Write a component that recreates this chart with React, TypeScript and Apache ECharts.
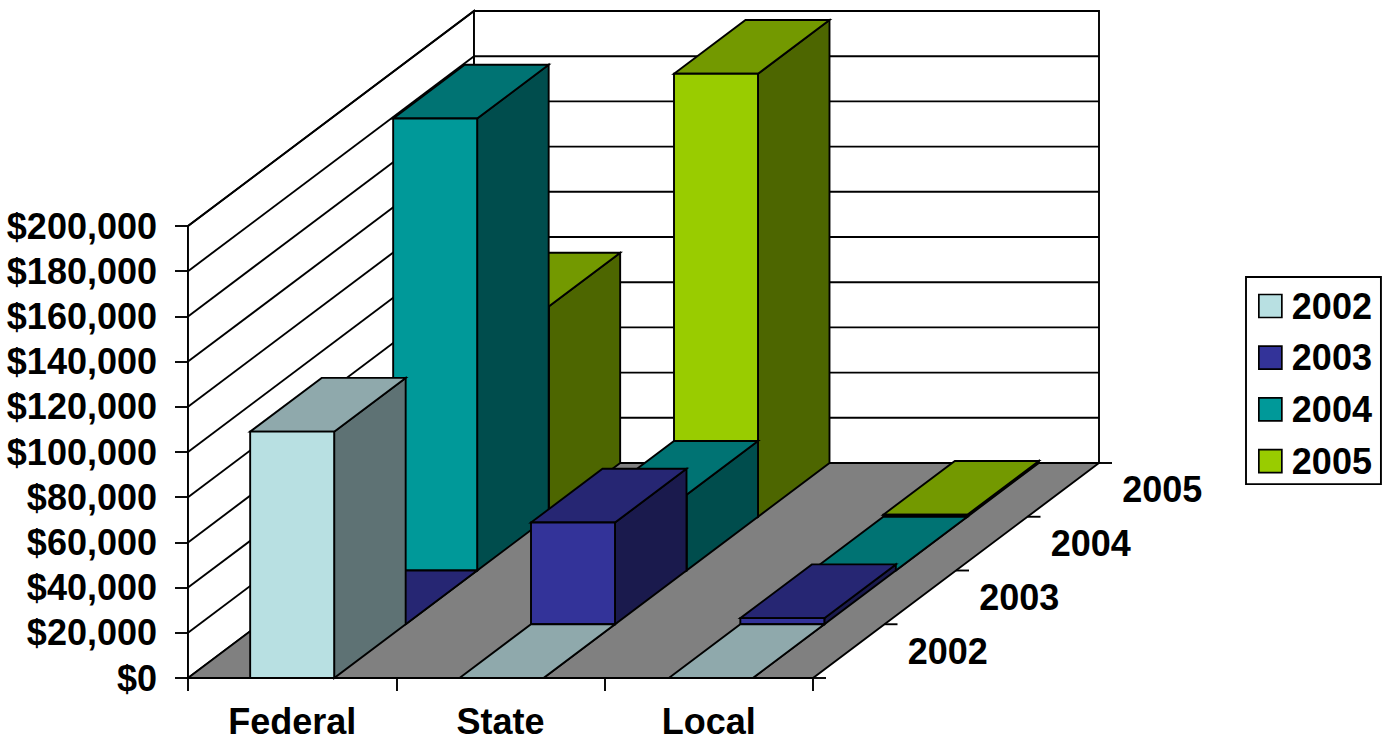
import React, { useEffect, useRef } from "react";
import * as echarts from "echarts";

// Funding by level of government, one row of bars per year.
const levels = ["Federal", "State", "Local"];
const years = ["2002", "2003", "2004", "2005"];
const values2002 = [109000, 0, 0];
const values2003 = [0, 45000, 2700];
const values2004 = [200000, 33500, 0];
const values2005 = [93000, 196000, 900];
const rows = [values2002, values2003, values2004, values2005];
const frontColors = ["#B8E0E2", "#333399", "#009999", "#99CC00"];
const topColors = ["#8FA9AC", "#262673", "#007373", "#739900"];
const sideColors = ["#5E7274", "#1A1A4D", "#004D4D", "#4D6600"];
const valueTicks = [0, 20000, 40000, 60000, 80000, 100000, 120000, 140000, 160000, 180000, 200000];

const FONT_FAMILY = '"Liberation Sans", Arial, sans-serif';
const FONT_SIZE = 36;
const DEPTH_X = 71.5;
const DEPTH_Y = 53.75;
const BAR_WIDTH = 84;
const LEVEL_NUDGE = 1;
const STROKE = "#000";
const LINE = 1.9;

const face = (points: number[][], fill: string) => ({
  type: "polygon",
  shape: { points },
  style: { fill, stroke: STROKE, lineWidth: LINE, lineJoin: "miter" },
});

const edge = (x1: number, y1: number, x2: number, y2: number) => ({
  type: "line",
  shape: { x1, y1, x2, y2 },
  style: { stroke: STROKE, lineWidth: LINE, fill: "none" },
});

// Walls, floor and the receding year axis.
function renderFrame(params: any, api: any) {
  const sys = params.coordSys;
  const left = sys.x;
  const right = sys.x + sys.width;
  const base = api.coord([0, 0])[1];
  const n = years.length;
  const dx = DEPTH_X * n;
  const dy = DEPTH_Y * n;
  const top = api.coord([0, valueTicks[valueTicks.length - 1]])[1];
  const children: any[] = [
    face([[left, base], [left, top], [left + dx, top - dy], [left + dx, base - dy]], "#fff"),
    face([[left + dx, top - dy], [right + dx, top - dy], [right + dx, base - dy], [left + dx, base - dy]], "#fff"),
  ];
  valueTicks.slice(1).forEach((v) => {
    const y = api.coord([0, v])[1];
    children.push(edge(left, y, left + dx, y - dy));
    children.push(edge(left + dx, y - dy, right + dx, y - dy));
  });
  children.push(face([[left, base], [right, base], [right + dx, base - dy], [left + dx, base - dy]], "#808080"));
  for (let i = 0; i <= n; i++) {
    const x = right + DEPTH_X * i;
    const y = base - DEPTH_Y * i;
    children.push(edge(x, y, x + 13, y));
  }
  years.forEach((year, i) => {
    children.push({
      type: "text",
      style: {
        text: year,
        x: right + DEPTH_X * (i + 0.5) + 99,
        y: base - DEPTH_Y * (i + 0.5),
        fill: "#000",
        font: `bold ${FONT_SIZE}px ${FONT_FAMILY}`,
        align: "center",
        verticalAlign: "middle",
      },
    });
  });
  return { type: "group", children };
}

// One box: front, top and right-hand faces, pushed back by its row.
const renderBar = (row: number) => (_params: any, api: any) => {
  const [cx, y0] = api.coord([api.value(0), 0]);
  const y1 = api.coord([api.value(0), api.value(1)])[1];
  const ox = DEPTH_X * row + LEVEL_NUDGE * api.value(0);
  const oy = DEPTH_Y * row;
  const xl = cx - BAR_WIDTH / 2 + ox;
  const xr = cx + BAR_WIDTH / 2 + ox;
  const yb = y0 - oy;
  const yt = y1 - oy;
  return {
    type: "group",
    children: [
      face([[xr, yb], [xr, yt], [xr + DEPTH_X, yt - DEPTH_Y], [xr + DEPTH_X, yb - DEPTH_Y]], sideColors[row]),
      face([[xl, yt], [xr, yt], [xr + DEPTH_X, yt - DEPTH_Y], [xl + DEPTH_X, yt - DEPTH_Y]], topColors[row]),
      face([[xl, yb], [xr, yb], [xr, yt], [xl, yt]], frontColors[row]),
    ],
  };
};

export default function App() {
  const ref = useRef<HTMLDivElement>(null);

  useEffect(() => {
    document.body.style.margin = "0";
    const chart = echarts.init(ref.current!, null, { renderer: "svg" });
    const labelStyle = {
      color: "#000",
      fontFamily: FONT_FAMILY,
      fontWeight: "bold" as const,
      fontSize: FONT_SIZE,
    };
    chart.setOption({
      animation: false,
      backgroundColor: "#fff",
      grid: { left: 188, top: 226, width: 625, height: 452, containLabel: false },
      xAxis: {
        type: "category",
        data: levels,
        boundaryGap: true,
        axisLine: { show: true, lineStyle: { color: STROKE, width: LINE } },
        axisTick: { show: true, length: 13, alignWithLabel: false, lineStyle: { color: STROKE, width: LINE } },
        axisLabel: { ...labelStyle, margin: 28, lineHeight: 30, interval: 0 },
        splitLine: { show: false },
      },
      yAxis: {
        type: "value",
        min: 0,
        max: 200000,
        interval: 20000,
        axisLine: { show: true, lineStyle: { color: STROKE, width: LINE } },
        axisTick: { show: true, length: 13, lineStyle: { color: STROKE, width: LINE } },
        axisLabel: {
          ...labelStyle,
          margin: 31,
          padding: [2, 0, 0, 0],
          formatter: (v: number) => "$" + v.toLocaleString("en-US"),
        },
        splitLine: { show: false },
      },
      legend: {
        data: years,
        orient: "vertical",
        left: 1246,
        top: 277,
        padding: [11, 9, 5, 12],
        itemWidth: 23,
        itemHeight: 23,
        itemGap: 15.7,
        icon: "rect",
        borderColor: STROKE,
        borderWidth: LINE,
        backgroundColor: "#fff",
        selectedMode: false,
        textStyle: { ...labelStyle, padding: [0, 0, 0, 5] },
        itemStyle: { borderColor: STROKE, borderWidth: 1.7 },
      },
      series: [
        {
          type: "custom",
          name: "frame",
          silent: true,
          z: 1,
          data: [[0, 0]],
          renderItem: renderFrame,
        },
        ...years.map((year, row) => ({
          type: "custom",
          name: year,
          silent: true,
          z: 10 - row,
          itemStyle: { color: frontColors[row] },
          data: rows[row].map((v, i) => [i, v]),
          encode: { x: 0, y: 1 },
          renderItem: renderBar(row),
        })),
      ],
    });
    return () => chart.dispose();
  }, []);

  return <div ref={ref} style={{ width: 1389, height: 740 }} />;
}
